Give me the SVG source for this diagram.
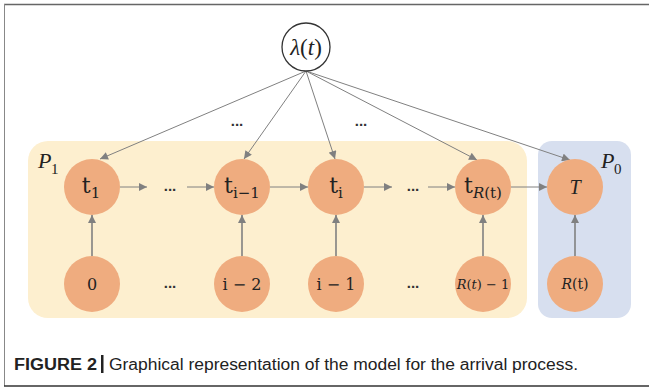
<svg xmlns="http://www.w3.org/2000/svg" width="649" height="388" viewBox="0 0 649 388">
<style>
.node{fill:#EFAC7F}
.lbl{font-family:"DejaVu Serif","Liberation Serif",serif;fill:#222;text-anchor:middle}
.tt{font-size:22px}
.sub{font-size:15px}
.bot{font-size:16px}
.dots{font-family:"Liberation Sans",sans-serif;font-size:15px;font-weight:bold;fill:#333;text-anchor:middle}
.ln{stroke:#808080;stroke-width:1;fill:none}
.lnv{stroke:#808080;stroke-width:1.6;fill:none}
.cap{font-family:"Liberation Sans",Arial,sans-serif;font-size:16px;fill:#222}
</style>
<defs>
<marker id="ah" viewBox="0 0 10 10" refX="10" refY="5" markerWidth="9" markerHeight="8" markerUnits="userSpaceOnUse" orient="auto">
<path d="M0,0 L10,5 L0,10 z" fill="#808080"/>
</marker>
</defs>
<rect x="0" y="0" width="649" height="388" fill="#fff"/>
<g id="frame">
<line x1="4" y1="4.5" x2="649" y2="4.5" stroke="#666" stroke-width="1.5"/>
<line x1="4.5" y1="4" x2="4.5" y2="386" stroke="#888" stroke-width="1"/>
<line x1="4" y1="386" x2="649" y2="386" stroke="#333" stroke-width="1.5"/>
</g>
<g id="P1">
<rect x="28" y="141" width="499" height="177" rx="20" fill="#FDEFCF"/>
<text x="38" y="168" font-family="Liberation Serif,serif" font-style="italic" font-size="22" fill="#222">P</text>
<text x="51" y="174" font-family="Liberation Serif,serif" font-size="15" fill="#222">1</text>
</g>
<g id="P0">
<rect x="538" y="141" width="93" height="177" rx="14" fill="#D7DFEF"/>
<text x="601" y="168" font-family="Liberation Serif,serif" font-style="italic" font-size="22" fill="#222">P</text>
<text x="614" y="174" font-family="Liberation Serif,serif" font-size="15" fill="#222">0</text>
</g>
<g id="connectors">
<line class="ln" x1="306" y1="71" x2="100" y2="159" marker-end="url(#ah)"/>
<line class="ln" x1="306" y1="71" x2="244" y2="159" marker-end="url(#ah)"/>
<line class="ln" x1="306" y1="71" x2="335" y2="159" marker-end="url(#ah)"/>
<line class="ln" x1="306" y1="71" x2="477" y2="160" marker-end="url(#ah)"/>
<line class="ln" x1="306" y1="71" x2="570" y2="160" marker-end="url(#ah)"/>
<line class="ln" x1="120" y1="187" x2="147" y2="187" marker-end="url(#ah)"/>
<line class="ln" x1="187" y1="187" x2="214" y2="187" marker-end="url(#ah)"/>
<line class="ln" x1="270" y1="187" x2="308" y2="187" marker-end="url(#ah)"/>
<line class="ln" x1="364" y1="187" x2="392" y2="187" marker-end="url(#ah)"/>
<line class="ln" x1="428" y1="187" x2="455" y2="187" marker-end="url(#ah)"/>
<line class="ln" x1="511" y1="187" x2="547" y2="187" marker-end="url(#ah)"/>
<line class="lnv" x1="92" y1="256" x2="92" y2="215" marker-end="url(#ah)"/>
<line class="lnv" x1="242" y1="256" x2="242" y2="215" marker-end="url(#ah)"/>
<line class="lnv" x1="336" y1="256" x2="336" y2="215" marker-end="url(#ah)"/>
<line class="lnv" x1="483" y1="256" x2="483" y2="215" marker-end="url(#ah)"/>
<line class="lnv" x1="575" y1="256" x2="575" y2="215" marker-end="url(#ah)"/>
</g>
<g id="ellipses">
<text class="dots" x="237" y="126">...</text>
<text class="dots" x="361" y="126">...</text>
<text class="dots" x="170" y="191">...</text>
<text class="dots" x="413" y="191">...</text>
<text class="dots" x="170" y="288">...</text>
<text class="dots" x="413" y="288">...</text>
</g>
<g id="lambda">
<circle cx="306" cy="47" r="24" fill="#fff" stroke="#333" stroke-width="1.3"/>
<text x="306" y="55" font-family="Liberation Serif,serif" font-size="23" fill="#222" text-anchor="middle"><tspan font-style="italic">λ</tspan>(<tspan font-style="italic">t</tspan>)</text>
</g>
<g id="t1">
<circle class="node" cx="92" cy="187" r="28"/>
<text class="lbl tt" x="91" y="193">t<tspan class="sub" dy="5">1</tspan></text>
</g>
<g id="ti-1">
<circle class="node" cx="242" cy="187" r="28"/>
<text class="lbl tt" x="242" y="193">t<tspan class="sub" dy="5">i−1</tspan></text>
</g>
<g id="ti">
<circle class="node" cx="336" cy="187" r="28"/>
<text class="lbl tt" x="336" y="193">t<tspan class="sub" dy="5">i</tspan></text>
</g>
<g id="tR">
<circle class="node" cx="483" cy="187" r="28"/>
<text class="lbl tt" x="483" y="193">t<tspan class="sub" dy="5"><tspan font-style="italic">R</tspan>(t)</tspan></text>
</g>
<g id="T">
<circle class="node" cx="575" cy="187" r="28"/>
<text x="575" y="194" font-family="Liberation Serif,serif" font-size="20" font-style="italic" fill="#222" text-anchor="middle">T</text>
</g>
<g id="n0">
<circle class="node" cx="92" cy="284" r="28"/>
<text class="lbl bot" x="92" y="290">0</text>
</g>
<g id="ni-2">
<circle class="node" cx="242" cy="284" r="28"/>
<text class="lbl bot" x="242" y="290">i − 2</text>
</g>
<g id="ni-1">
<circle class="node" cx="336" cy="284" r="28"/>
<text class="lbl bot" x="336" y="290">i − 1</text>
</g>
<g id="nR-1">
<circle class="node" cx="483" cy="284" r="28"/>
<text class="lbl" x="483" y="289" font-size="13"><tspan font-style="italic">R</tspan>(<tspan font-style="italic">t</tspan>) − 1</text>
</g>
<g id="nR">
<circle class="node" cx="575" cy="284" r="28"/>
<text class="lbl" x="575" y="289" font-size="14"><tspan font-style="italic">R</tspan>(t)</text>
</g>
<g id="caption">
<text class="cap" x="14" y="370"><tspan font-weight="bold" textLength="83" lengthAdjust="spacingAndGlyphs">FIGURE 2</tspan></text>
<rect x="101" y="355" width="2.5" height="18" fill="#222"/>
<text class="cap" x="109" y="370" textLength="469" lengthAdjust="spacingAndGlyphs">Graphical representation of the model for the arrival process.</text>
</g>
</svg>
